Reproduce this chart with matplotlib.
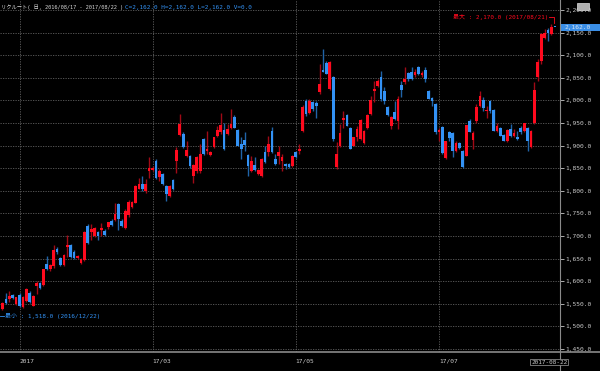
import numpy as np
import pandas as pd
import matplotlib
matplotlib.use("Agg")
import matplotlib.pyplot as plt
from matplotlib.patches import Rectangle
from matplotlib.lines import Line2D
from matplotlib.ticker import FuncFormatter

# Daily OHLC, 2016/12/26 - 2017/08/22
opens = [1539, 1561, 1561, 1569, 1550, 1570, 1543, 1557, 1574, 1546,
         1590, 1596, 1592, 1638, 1626, 1633, 1671, 1651, 1635, 1675,
         1680, 1665, 1651, 1641, 1646, 1721, 1708, 1699, 1708, 1713,
         1712, 1719, 1734, 1735, 1771, 1734, 1718, 1746, 1765, 1774,
         1805, 1815, 1800, 1844, 1846, 1866, 1831, 1837, 1811, 1789,
         1824, 1866, 1923, 1926, 1876, 1877, 1833, 1843, 1843, 1914,
         1888, 1879, 1896, 1921, 1929, 1934, 1925, 1940, 1964, 1934,
         1903, 1913, 1879, 1844, 1857, 1837, 1833, 1885, 1885, 1932,
         1870, 1877, 1866, 1860, 1859, 1855, 1885, 1887, 1932, 1999,
         1973, 1997, 1994, 2018, 2067, 2082, 2025, 2051, 1852, 1898,
         1957, 1968, 1939, 1900, 1918, 1915, 1906, 1938, 1970, 2021,
         2032, 2051, 2021, 1985, 1944, 1975, 1955, 2034, 2040, 2060,
         2062, 2056, 2073, 2056, 2068, 2021, 2005, 1992, 1931, 1942,
         1872, 1929, 1927, 1889, 1905, 1887, 1878, 1955, 1912, 1955,
         1988, 2001, 1976, 1998, 1979, 1933, 1939, 1924, 1911, 1937,
         1922, 1920, 1940, 1932, 1939, 1896, 1949, 2051, 2087, 2139,
         2155, 2146, 2162]
highs = [1555, 1574, 1578, 1572, 1566, 1574, 1568, 1585, 1578, 1570,
         1601, 1599, 1628, 1656, 1638, 1679, 1676, 1653, 1661, 1703,
         1683, 1668, 1658, 1651, 1712, 1726, 1726, 1719, 1712, 1728,
         1715, 1732, 1737, 1774, 1774, 1737, 1759, 1779, 1778, 1813,
         1829, 1833, 1826, 1874, 1855, 1870, 1848, 1840, 1813, 1813,
         1826, 1896, 1969, 1930, 1910, 1879, 1859, 1876, 1903, 1917,
         1932, 1888, 1920, 1943, 1973, 1949, 1947, 1982, 1967, 1936,
         1918, 1929, 1881, 1877, 1874, 1848, 1872, 1899, 1921, 1942,
         1881, 1899, 1881, 1862, 1862, 1880, 1888, 1904, 1989, 2003,
         2003, 1999, 1999, 2080, 2113, 2087, 2087, 2054, 1907, 1948,
         1977, 1970, 1941, 1920, 1944, 1959, 1935, 1970, 2010, 2043,
         2047, 2065, 2029, 1987, 1966, 1999, 2010, 2043, 2073, 2063,
         2073, 2069, 2076, 2065, 2073, 2024, 2007, 1995, 1940, 1944,
         1911, 1933, 1929, 1911, 1908, 1890, 1946, 1958, 1933, 1992,
         2020, 2007, 1988, 2000, 1981, 1951, 1941, 1926, 1937, 1948,
         1937, 1933, 1944, 1951, 1941, 1935, 2040, 2091, 2148, 2157,
         2161, 2170, 2162]
lows = [1537, 1550, 1554, 1560, 1548, 1543, 1540, 1555, 1552, 1544,
        1572, 1583, 1589, 1624, 1623, 1630, 1660, 1634, 1633, 1653,
        1651, 1649, 1648, 1639, 1644, 1682, 1690, 1697, 1690, 1699,
        1700, 1716, 1722, 1734, 1713, 1720, 1715, 1743, 1763, 1772,
        1803, 1800, 1796, 1829, 1843, 1827, 1822, 1813, 1778, 1786,
        1802, 1840, 1921, 1894, 1874, 1850, 1818, 1840, 1840, 1879,
        1881, 1877, 1894, 1918, 1925, 1890, 1923, 1936, 1938, 1898,
        1870, 1888, 1833, 1842, 1844, 1835, 1831, 1862, 1877, 1883,
        1858, 1859, 1844, 1848, 1851, 1852, 1872, 1882, 1929, 1966,
        1970, 1977, 1962, 2014, 2062, 2058, 2023, 1911, 1849, 1896,
        1939, 1944, 1893, 1898, 1911, 1913, 1904, 1936, 1968, 1996,
        2030, 1999, 1991, 1966, 1937, 1957, 1937, 2007, 2036, 2043,
        2045, 2051, 2056, 2051, 2040, 2003, 1988, 1925, 1911, 1881,
        1870, 1911, 1874, 1885, 1892, 1850, 1876, 1929, 1893, 1949,
        1985, 1977, 1962, 1973, 1932, 1929, 1922, 1910, 1909, 1918,
        1918, 1912, 1926, 1930, 1887, 1894, 1947, 2043, 2080, 2135,
        2132, 2144, 2162]
closes = [1551, 1551, 1568, 1562, 1564, 1546, 1566, 1583, 1554, 1568,
          1596, 1585, 1626, 1626, 1635, 1670, 1664, 1636, 1659, 1679,
          1653, 1651, 1655, 1649, 1708, 1685, 1715, 1717, 1701, 1717,
          1702, 1730, 1724, 1748, 1737, 1723, 1756, 1776, 1776, 1811,
          1816, 1805, 1816, 1851, 1851, 1829, 1844, 1815, 1793, 1811,
          1804, 1890, 1947, 1896, 1890, 1855, 1857, 1874, 1881, 1881,
          1892, 1885, 1918, 1934, 1945, 1892, 1936, 1948, 1940, 1899,
          1892, 1901, 1855, 1865, 1846, 1846, 1870, 1864, 1903, 1885,
          1860, 1885, 1874, 1855, 1853, 1877, 1874, 1893, 1986, 1970,
          1999, 1981, 1987, 2037, 2063, 2059, 2084, 1915, 1882, 1927,
          1961, 1944, 1893, 1918, 1937, 1957, 1933, 1968, 2001, 2025,
          2042, 2003, 1999, 1968, 1964, 1959, 2004, 2023, 2047, 2048,
          2047, 2062, 2058, 2060, 2047, 2003, 1999, 1929, 1935, 1883,
          1911, 1917, 1889, 1905, 1894, 1852, 1946, 1931, 1927, 1986,
          2010, 1983, 1979, 1976, 1933, 1944, 1922, 1910, 1935, 1922,
          1927, 1915, 1929, 1949, 1910, 1933, 2023, 2084, 2146, 2150,
          2148, 2162, 2162]

# Tokyo trading days
holidays = ["2016-12-23", "2017-01-02", "2017-01-03", "2017-01-09",
            "2017-03-20", "2017-05-03", "2017-05-04", "2017-05-05",
            "2017-07-17", "2017-08-11"]
dates = pd.bdate_range("2016-12-26", "2017-08-22", freq="C", holidays=holidays)
dates = dates[:len(closes)]

month_labels = ["2017", "17/03", "17/05", "17/07"]
month_starts = [(2017, 1), (2017, 3), (2017, 5), (2017, 7)]

o = np.array(opens)
h = np.array(highs)
l = np.array(lows)
c = np.array(closes)
x = np.arange(len(c))

RED = "#ff0a1e"
BLUE = "#3392f5"
RED_WICK = "#a00a16"
BLUE_WICK = "#2064a8"
GRID = "#606060"
TXT = "#c8c8c8"
FONT = ["DejaVu Sans Mono", "Noto Sans CJK JP"]

fig = plt.figure(figsize=(6, 3.71), dpi=100, facecolor="black")
ax = fig.add_axes([0, 19 / 371, 560 / 600, 352 / 371])
ax.set_facecolor("black")

ax.set_xlim(-0.73, 163.5)
ax.set_ylim(1443.3, 2222.1)

# Grid
ax.set_yticks(np.arange(1450, 2201, 50))
month_idx = [int(np.argmax((dates.year == yy) & (dates.month == mm))) for yy, mm in month_starts]
ax.set_xticks(month_idx)
ax.set_xticklabels(month_labels, ha="left", family=FONT)
ax.grid(True, color=GRID, linestyle=(0, (1.5, 1.5)), linewidth=0.6)
ax.set_axisbelow(True)

# Candles
up = c > o
ax.vlines(x, l, h, colors=np.where(up, RED_WICK, BLUE_WICK), linewidth=1.0, zorder=2)
body = np.maximum(np.abs(c - o), 1.5)
ax.bar(x, body, bottom=np.minimum(o, c), width=0.8,
       color=np.where(up, RED, BLUE), linewidth=0, zorder=3)

# Axis styling
for s in ax.spines.values():
    s.set_visible(False)
ax.yaxis.tick_right()
ax.yaxis.set_major_formatter(FuncFormatter(lambda v, p: f"{v:,.1f}"))
ax.tick_params(axis="y", colors=TXT, length=3, width=0.6, pad=1, labelsize=4.5)
ax.tick_params(axis="x", colors=TXT, length=0, pad=5, labelsize=4.5)
for t in ax.get_yticklabels():
    t.set_family(FONT)

fig.add_artist(Line2D([560 / 600, 560 / 600], [0, 1], color="#8a8a8a", linewidth=0.8))
fig.add_artist(Line2D([0, 1], [1 - 351.5 / 371, 1 - 351.5 / 371], color="#8a8a8a", linewidth=1.2))

# Title
fig.text(1 / 600, 1 - 7 / 371, "リクルート( 日, 2016/08/17 - 2017/08/22 )",
         color="#d8d8d8", fontsize=3.8, va="center", family=FONT)
fig.text(125 / 600, 1 - 7 / 371, "C=2,162.0 H=2,162.0 L=2,162.0 V=0.0",
         color=BLUE, fontsize=4.3, va="center", family=FONT)

# Max / min labels
imax = int(np.argmax(h))
ax.text(160.2, 2184.5, "最大 : 2,170.0 (2017/08/21)", color=RED, fontsize=4.3,
        ha="right", va="center", family=FONT)
ax.plot([160.3, imax + 0.6, imax + 0.6], [2184.5, 2184.5, h[imax] + 1],
        color=RED, linewidth=0.6)
ax.plot([-0.73, 0.5], [1523, 1523], color=BLUE, linewidth=0.6)
ax.text(0.73, 1523, "最小 : 1,518.0 (2016/12/22)", color=BLUE, fontsize=4.3,
        ha="left", va="center", family=FONT)

# Current price box
fig.add_artist(Rectangle((561 / 600, 1 - 30.7 / 371), 39 / 600, 7 / 371,
                         facecolor="#3a8ee6", edgecolor="none"))
fig.text(564 / 600, 1 - 27.2 / 371, f"{closes[-1]:,.1f}", color="#d8e4f0",
         fontsize=4.5, va="center", family=FONT)
fig.add_artist(Rectangle((577 / 600, 1 - 10 / 371), 12 / 600, 7 / 371,
                         facecolor="#b0b0b0", edgecolor="#e0e0e0", linewidth=0.5))

# Current date label
fig.text(531 / 600, 1 - 362 / 371, dates[-1].strftime("%Y-%m-%d"), color=TXT,
         fontsize=4.3, va="center", family=FONT,
         bbox=dict(facecolor="black", edgecolor="#a0a0a0", linewidth=0.5, pad=0.6))

plt.savefig("out.png", dpi=100, facecolor="black")
plt.close()
